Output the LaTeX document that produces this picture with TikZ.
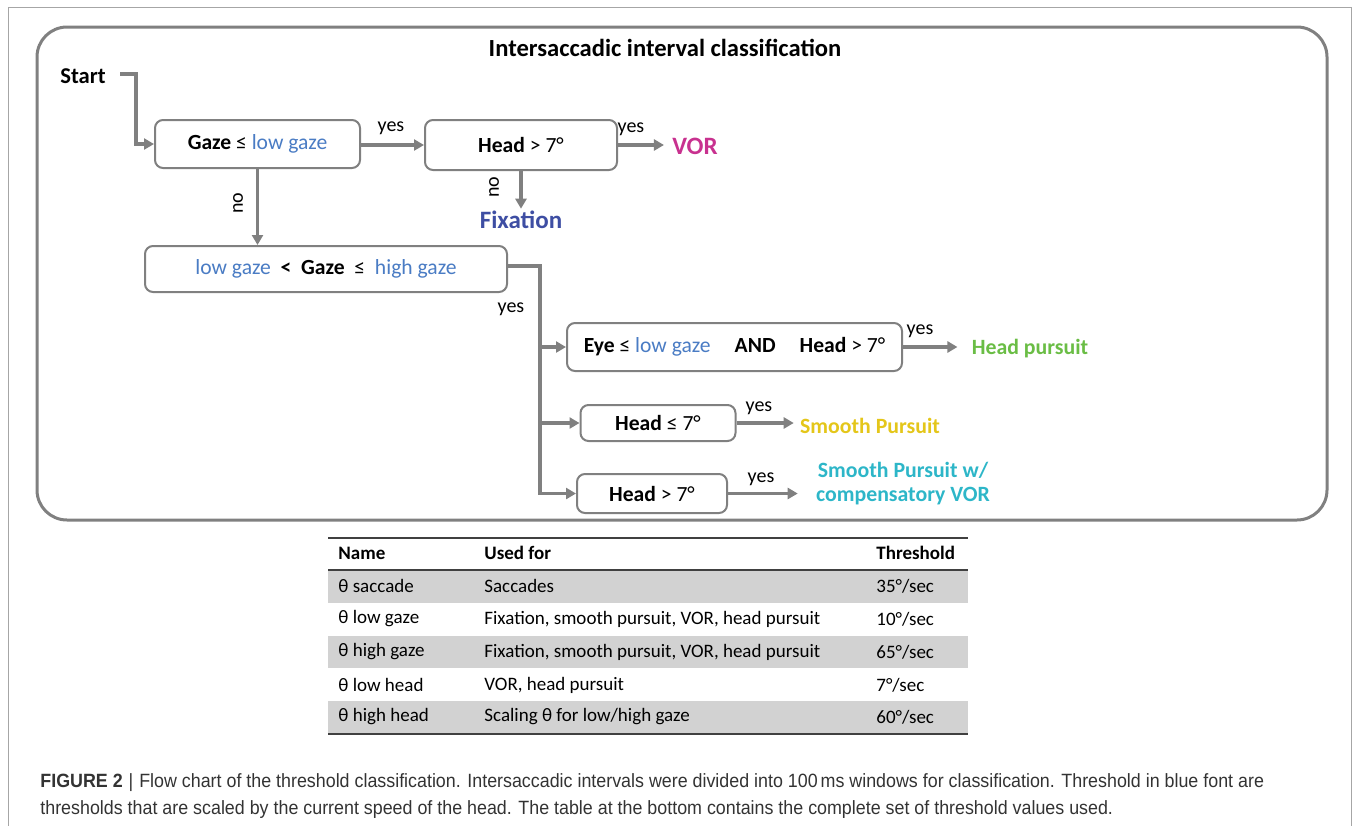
\documentclass[tikz,border=0pt]{standalone}
\usepackage{fontspec}
\setmainfont{Carlito}
\newfontfamily\capfont{Liberation Sans}
\usetikzlibrary{arrows.meta}
\definecolor{lgray}{HTML}{808080}
\definecolor{tblue}{HTML}{4A7CC4}
\definecolor{fixblue}{HTML}{3E4EA3}
\definecolor{vormag}{HTML}{C8318F}
\definecolor{hpgreen}{HTML}{6ABD45}
\definecolor{spyellow}{HTML}{E4C61A}
\definecolor{spcyan}{HTML}{2DB6C8}
\definecolor{rowgray}{HTML}{D2D2D2}
\definecolor{capgray}{HTML}{333333}
\tikzset{
  x=0.5pt, y=-0.5pt,
  box/.style={draw=lgray, line width=1pt, rounded corners=4pt, fill=white, inner sep=0pt, font=\fontsize{10.8}{13}\selectfont},
  conn/.style={draw=lgray, line width=1.6pt},
  arr/.style={conn, -{Triangle[length=5pt,width=5.5pt]}},
  lbl/.style={font=\fontsize{10}{12}\selectfont, inner sep=0pt},
  outc/.style={font=\fontsize{10.9}{13}\selectfont\bfseries, inner sep=0pt},
  outbig/.style={font=\fontsize{12.5}{15}\selectfont\bfseries, inner sep=0pt},
  tbl/.style={font=\fontsize{9.5}{11}\selectfont, inner sep=0pt, anchor=west},
  tblh/.style={font=\fontsize{9.5}{11}\selectfont\bfseries, inner sep=0pt, anchor=west},
  captxt/.style={font=\capfont\fontsize{9.6}{11}\selectfont, text=capgray, inner sep=0pt, anchor=west},
}
\begin{document}
\begin{tikzpicture}
\useasboundingbox (0,0) rectangle (1354,825);
% page frame
\draw[black!35, line width=0.5pt] (8,830) -- (8,7) -- (1351,7) -- (1351,830);
% outer rounded box
\draw[lgray, line width=1.5pt, rounded corners=15pt] (37,27) rectangle (1327,520);
\node[font=\fontsize{12.3}{15}\selectfont\bfseries, inner sep=0pt] (title) at (665,48) {Intersaccadic interval classification};

\node[font=\fontsize{11.3}{13}\selectfont\bfseries, inner sep=0pt] (start) at (83,76) {Start};

\node[box, minimum width=102.5pt, minimum height=24pt] (b1) at (257.5,144) {\textbf{Gaze} ≤ \textcolor{tblue}{low gaze}};
\node[box, minimum width=96pt, minimum height=25pt] (b2) at (521,145) {\textbf{Head} > 7°};
\node[box, minimum width=181pt, minimum height=23pt] (b3) at (326,269) {\textcolor{tblue}{low gaze}\ \ \textbf{<}\ \ \textbf{Gaze}\ \ ≤\ \ \textcolor{tblue}{high gaze}};
\node[box, minimum width=167.5pt, minimum height=24pt] (b4) at (734.5,347) {\textbf{Eye} ≤ \textcolor{tblue}{low gaze}\hspace{12pt}\textbf{AND}\hspace{12pt}\textbf{Head} > 7°};
\node[box, minimum width=77.5pt, minimum height=18pt] (b5) at (658,423) {\textbf{Head} ≤ 7°};
\node[box, minimum width=75pt, minimum height=19.5pt] (b6) at (652,493.5) {\textbf{Head} > 7°};

\node[outbig, text=vormag] (vor) at (695,146) {VOR};
\node[outbig, text=fixblue] (fix) at (521,220) {Fixation};
\node[outc, text=hpgreen] (hp) at (1030,349) {Head pursuit};
\node[outc, text=spyellow] (sp) at (870,426) {Smooth Pursuit};
\node[outc, text=spcyan, align=center] (spc) at (903,484) {Smooth Pursuit w/\\[-1pt]compensatory VOR};

% connectors
\coordinate (sc) at (136,74);
\draw[arr] ([xshift=7pt,yshift=1pt]start.east) -- (sc) |- (b1.west);
\draw[arr] (b1.east |- b2.west) -- (b2.west);
\draw[arr, shorten >=4pt] (b2.east) -- (b2.east -| vor.west);
\draw[arr, shorten >=1pt] (b2.south) -- (fix.north);
\draw[arr] (b1.south) -- (b1.south |- b3.north);
\coordinate (tk) at (540,266);
\draw[arr] (b3.east |- tk) -- (tk) |- (b6.west);
\draw[arr] (tk |- b4.west) -- (b4.west);
\draw[arr] (tk |- b5.west) -- (b5.west);
\draw[arr, shorten >=7pt] (b4.east) -- (b4.east -| hp.west);
\draw[arr, shorten >=3pt] (b5.east) -- (b5.east -| sp.west);
\draw[arr, shorten >=9pt] (b6.east) -- (b6.east -| spc.west);

% labels
\node[lbl] (y1) at (391,128) {yes};
\node[lbl] (y2) at (631,129) {yes};
\node[lbl, rotate=90] (n1) at (238,203) {no};
\node[lbl, rotate=90] (n2) at (494,187) {no};
\node[lbl] (y3) at (511,309) {yes};
\node[lbl] (y4) at (920,331) {yes};
\node[lbl] (y5) at (759,408) {yes};
\node[lbl] (y6) at (761,479) {yes};

% table
\fill[rowgray] (328,570) rectangle (968,603);
\fill[rowgray] (328,636) rectangle (968,668);
\fill[rowgray] (328,701) rectangle (968,733);
\draw[black!75, line width=1pt] (328,538) -- (968,538);
\draw[black!75, line width=1pt] (328,570) -- (968,570);
\draw[black!75, line width=1pt] (328,734) -- (968,734);
\node[tblh] (h1) at (338,553) {Name};
\node[tblh] (h2) at (484,553) {Used for};
\node[tblh] (h3) at (876,553) {Threshold};
\node[tbl] (r1a) at (338,586) {θ saccade};
\node[tbl] (r1b) at (484,586) {Saccades};
\node[tbl] (r1c) at (876,586) {35°/sec};
\node[tbl] (r2a) at (338,619) {θ low gaze};
\node[tbl] (r2b) at (484,619) {Fixation, smooth pursuit, VOR, head pursuit};
\node[tbl] (r2c) at (876,619) {10°/sec};
\node[tbl] (r3a) at (338,652) {θ high gaze};
\node[tbl] (r3b) at (484,652) {Fixation, smooth pursuit, VOR, head pursuit};
\node[tbl] (r3c) at (876,652) {65°/sec};
\node[tbl] (r4a) at (338,685) {θ low head};
\node[tbl] (r4b) at (484,685) {VOR, head pursuit};
\node[tbl] (r4c) at (876,685) {7°/sec};
\node[tbl] (r5a) at (338,717) {θ high head};
\node[tbl] (r5b) at (484,717) {Scaling θ for low/high gaze};
\node[tbl] (r5c) at (876,717) {60°/sec};

% caption
\node[captxt] (cap1) at (40,783) {\scalebox{0.93}[1]{\textbf{FIGURE 2}\,\,|\,\,Flow chart of the threshold classification. Intersaccadic intervals were divided into 100\,ms windows for classification. Threshold in blue font are}};
\node[captxt] (cap2) at (40,810) {\scalebox{0.93}[1]{thresholds that are scaled by the current speed of the head. The table at the bottom contains the complete set of threshold values used.}};
\end{tikzpicture}
\end{document}
